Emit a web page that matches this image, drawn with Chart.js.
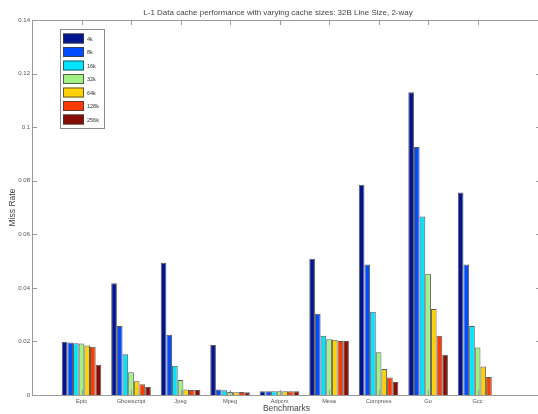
<!DOCTYPE html>
<html>
<head>
<meta charset="utf-8">
<script src="https://cdn.jsdelivr.net/npm/chart.js@4/dist/chart.umd.min.js"></script>
<style>
  html, body { margin: 0; padding: 0; background: #fff; overflow: hidden; width: 538px; height: 414px; }
  canvas { display: block; }
</style>
</head>
<body>
<canvas id="chart" width="546" height="414"></canvas>
<script>
// Benchmarks on the x axis, one bar per cache size in each group
const benchmarks = ['Epic', 'Ghostscript', 'Jpeg', 'Mpeg', 'Adpcm', 'Mesa', 'Compress', 'Go', 'Gcc'];
const cacheSizes = ['4k', '8k', '16k', '32k', '64k', '128k', '256k'];

// Miss rate per benchmark for each L-1 cache size
const miss4k   = [0.0199, 0.0417, 0.0494, 0.0187, 0.0014, 0.0509, 0.0785, 0.1130, 0.0756];
const miss8k   = [0.0196, 0.0258, 0.0225, 0.0021, 0.0014, 0.0303, 0.0487, 0.0926, 0.0487];
const miss16k  = [0.0193, 0.0152, 0.0109, 0.0018, 0.0014, 0.0221, 0.0311, 0.0666, 0.0258];
const miss32k  = [0.0192, 0.0085, 0.0056, 0.0011, 0.0014, 0.0208, 0.0160, 0.0453, 0.0177];
const miss64k  = [0.0185, 0.0051, 0.0021, 0.0010, 0.0014, 0.0206, 0.0097, 0.0321, 0.0106];
const miss128k = [0.0180, 0.0040, 0.0019, 0.0011, 0.0014, 0.0202, 0.0065, 0.0221, 0.0067];
const miss256k = [0.0113, 0.0030, 0.0019, 0.0010, 0.0014, 0.0202, 0.0049, 0.0150, null];

const yTickValues = [0, 0.02, 0.04, 0.06, 0.08, 0.10, 0.12, 0.14];
const yTickLabels = ['0', '0.02', '0.04', '0.06', '0.08', '0.1', '0.12', '0.14'];

const seriesValues = [miss4k, miss8k, miss16k, miss32k, miss64k, miss128k, miss256k];
const seriesColors = ['#00148f', '#004cff', '#00e4ff', '#a2f283', '#ffd200', '#ff3b00', '#880c00'];

const AXIS_COLOR = '#9a9a9a';
const FONT = '"Liberation Sans", Arial, Helvetica, sans-serif';

const datasets = seriesValues.map((vals, s) => ({
  label: cacheSizes[s],
  data: vals.map((v, i) => ({ x: i + 1, y: v })),
  backgroundColor: seriesColors[s],
  borderColor: 'rgba(35,35,35,0.75)',
  borderWidth: 1,
  categoryPercentage: 0.8,
  barPercentage: 1.0
}));

// Axes box: top/right edges and inward tick marks on all four sides
const axesFrame = {
  id: 'axesFrame',
  afterDatasetsDraw(chart) {
    const { ctx, chartArea: a, scales: { x, y } } = chart;
    ctx.save();
    ctx.strokeStyle = AXIS_COLOR;
    ctx.lineWidth = 1;
    ctx.beginPath();
    ctx.moveTo(a.left, a.top + 0.5);
    ctx.lineTo(a.right, a.top + 0.5);
    ctx.moveTo(a.right - 0.5, a.top);
    ctx.lineTo(a.right - 0.5, a.bottom);
    const len = 5;
    yTickValues.forEach(v => {
      const py = Math.round(y.getPixelForValue(v)) + 0.5;
      ctx.moveTo(a.left, py); ctx.lineTo(a.left + len, py);
      ctx.moveTo(a.right, py); ctx.lineTo(a.right - len, py);
    });
    benchmarks.forEach((_, i) => {
      const px = Math.round(x.getPixelForValue(i + 1)) + 0.5;
      ctx.moveTo(px, a.top); ctx.lineTo(px, a.top + len);
      ctx.moveTo(px, a.bottom); ctx.lineTo(px, a.bottom - len);
    });
    ctx.stroke();
    ctx.restore();
  }
};

// Boxed legend in the upper-left corner of the plot
const boxLegend = {
  id: 'boxLegend',
  afterDraw(chart) {
    const { ctx } = chart;
    const bx = 60, by = 29, bw = 44, bh = 99;
    ctx.save();
    ctx.fillStyle = '#fff';
    ctx.fillRect(bx, by, bw, bh);
    ctx.strokeStyle = '#8a8a8a';
    ctx.lineWidth = 1;
    ctx.strokeRect(bx + 0.5, by + 0.5, bw, bh);
    ctx.font = '5.5px ' + FONT;
    ctx.textBaseline = 'middle';
    ctx.textAlign = 'left';
    chart.data.datasets.forEach((ds, i) => {
      const sy = by + 4.5 + i * 13.5;
      ctx.fillStyle = ds.backgroundColor;
      ctx.fillRect(63, sy, 21, 10);
      ctx.strokeStyle = 'rgba(60,60,60,0.8)';
      ctx.strokeRect(63.5, sy + 0.5, 20, 9);
      ctx.fillStyle = '#333';
      ctx.fillText(ds.label, 87, sy + 5.5);
    });
    ctx.restore();
  }
};

// Figure title above the axes
const figureTitle = {
  id: 'figureTitle',
  afterDraw(chart) {
    const { ctx } = chart;
    ctx.save();
    ctx.font = '8px ' + FONT;
    ctx.fillStyle = '#444';
    ctx.textAlign = 'center';
    ctx.textBaseline = 'middle';
    ctx.fillText('L-1 Data cache performance with varying cache sizes: 32B Line Size, 2-way', 278, 12.5);
    ctx.restore();
  }
};

new Chart(document.getElementById('chart'), {
  type: 'bar',
  data: { datasets },
  plugins: [axesFrame, boxLegend, figureTitle],
  options: {
    responsive: false,
    animation: false,
    layout: { padding: { top: 20, right: 5, left: 0, bottom: 0 } },
    plugins: {
      legend: { display: false },
      title: { display: false },
      tooltip: { enabled: false }
    },
    scales: {
      x: {
        type: 'linear',
        offset: false,
        min: 0,
        max: 10.28,
        afterBuildTicks(scale) {
          scale.ticks = benchmarks.map((_, i) => ({ value: i + 1 }));
        },
        afterFit(scale) { scale.height = 19; },
        ticks: {
          autoSkip: false,
          maxRotation: 0,
          padding: 3,
          color: '#555',
          font: { family: FONT, size: 5.7 },
          callback: (v) => benchmarks[v - 1]
        },
        grid: { display: false, drawTicks: false, offset: false },
        border: { display: true, color: AXIS_COLOR, width: 1 },
        title: {
          display: true,
          text: 'Benchmarks',
          color: '#444',
          font: { family: FONT, size: 8.5 },
          padding: { top: 0, bottom: 0 }
        }
      },
      y: {
        type: 'linear',
        min: 0,
        max: 0.14,
        afterBuildTicks(scale) {
          scale.ticks = yTickValues.map(v => ({ value: v }));
        },
        afterFit(scale) { scale.width = 32; },
        ticks: {
          padding: 2,
          color: '#555',
          font: { family: FONT, size: 6 },
          callback: (v) => yTickLabels[yTickValues.findIndex(t => Math.abs(t - v) < 1e-9)]
        },
        grid: { display: false, drawTicks: false },
        border: { display: true, color: AXIS_COLOR, width: 1 },
        title: {
          display: true,
          text: 'Miss Rate',
          color: '#444',
          font: { family: FONT, size: 8.5 },
          padding: { top: 8, bottom: 0 }
        }
      }
    }
  }
});
</script>
</body>
</html>
